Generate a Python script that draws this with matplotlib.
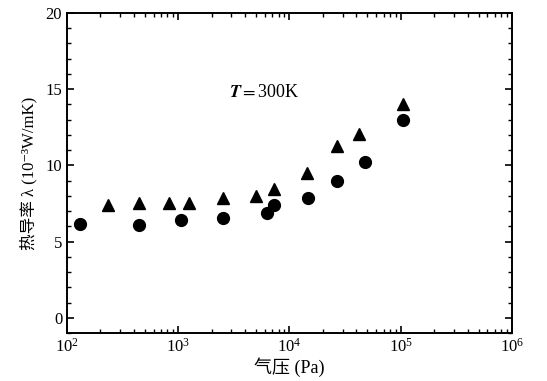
import matplotlib.pyplot as plt
import numpy as np
from matplotlib.ticker import LogLocator, MultipleLocator, NullFormatter

plt.rcParams['font.family'] = ['Liberation Serif', 'Noto Sans CJK SC', 'DejaVu Serif']
plt.rcParams['mathtext.fontset'] = 'stix'

# 圆点数据
p_circle = [132, 441, 1050, 2500, 6300, 7300, 14800, 26500, 48000, 104000]
k_circle = [6.14, 6.1, 6.41, 6.56, 6.9, 7.4, 7.89, 8.95, 10.19, 13.0]

# 三角数据
p_tri = [232, 441, 830, 1240, 2500, 5000, 7300, 14500, 26500, 42000, 105000]
k_tri = [7.4, 7.5, 7.55, 7.55, 7.87, 8.0, 8.45, 9.47, 11.24, 12.05, 14.05]

fig = plt.figure(figsize=(5.47, 3.81), dpi=100)
ax = fig.add_axes([0.1225, 0.126, 0.8135, 0.84])

ax.plot(p_circle, k_circle, 'o', color='black', markersize=8.5)
ax.plot(p_tri, k_tri, '^', color='black', markersize=8.5)

ax.set_xscale('log')
ax.set_xlim(1e2, 1e6)
ax.set_ylim(-1, 20)

ax.xaxis.set_major_locator(LogLocator(base=10, numticks=10))
ax.xaxis.set_minor_locator(LogLocator(base=10, subs=np.arange(2, 10), numticks=10))
ax.xaxis.set_minor_formatter(NullFormatter())
ax.yaxis.set_major_locator(MultipleLocator(5))
ax.yaxis.set_minor_locator(MultipleLocator(1))

ax.tick_params(which='both', direction='in', top=True, right=True, labelsize=12)
ax.tick_params(which='major', length=5, width=1.2)
ax.tick_params(which='minor', length=3, width=1.0)
for s in ax.spines.values():
    s.set_linewidth(1.4)

ax.text(5900, 14.75, r'$\boldsymbol{T}$$=$300K', fontsize=13, ha='center', va='center')

ax.set_xlabel('气压 (Pa)', fontsize=13, labelpad=1)
ax.set_ylabel('热导率 λ (10⁻³W/mK)', fontsize=12, labelpad=6)

fig.savefig('out.png', dpi=100)
